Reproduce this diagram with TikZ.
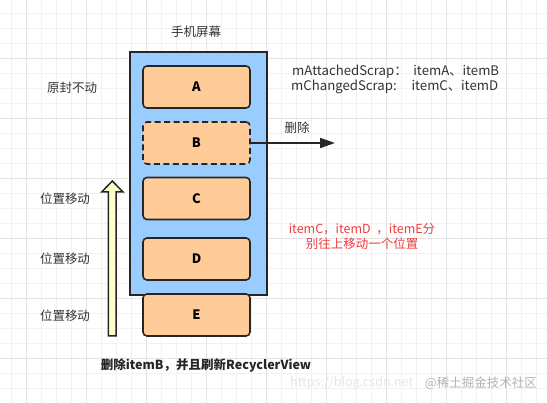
\documentclass[tikz,border=0pt]{standalone}
\usepackage{fontspec}
\setmainfont{Noto Sans CJK SC}
\usetikzlibrary{arrows.meta}

\definecolor{screenblue}{HTML}{99CCFF}
\definecolor{itemorange}{HTML}{FFCC99}
\definecolor{movearrow}{HTML}{FFFFCC}
\definecolor{notered}{HTML}{F03C3C}
\definecolor{gridminor}{HTML}{F2F2F2}
\definecolor{gridmajor}{HTML}{E4E4E4}

\tikzset{
	item/.style={draw=black!85, line width=1.6pt, fill=itemorange, rounded corners=4pt,
		minimum width=107pt, minimum height=42pt, inner sep=0pt,
		font=\fontsize{13}{15}\selectfont\bfseries},
	label/.style={inner sep=0pt, font=\fontsize{12.5}{15}\selectfont, text=black!80},
}

\begin{document}
\begin{tikzpicture}[x=1pt, y=-1pt]
		\useasboundingbox (0,0) rectangle (547,403);
		% background grid
		\foreach \x in {11,26,...,547}
			\draw[gridminor, line width=0.8pt] (\x,0) -- (\x,403);
		\foreach \y in {13,28,...,403}
			\draw[gridminor, line width=0.8pt] (0,\y) -- (547,\y);
		\foreach \x in {26,86,...,547}
			\draw[gridmajor, line width=0.8pt] (\x,0) -- (\x,403);
		\foreach \y in {58,118,...,403}
			\draw[gridmajor, line width=0.8pt] (0,\y) -- (547,\y);
		% phone screen
		\node[label] (title) at (196,32) {手机屏幕};
		\node[draw=black!85, line width=2pt, fill=screenblue, minimum width=137pt,
			minimum height=243pt, inner sep=0pt] (screen) at (198.5,173.5) {};
		% items
		\node[item] (A) at (196.5,87) {A};
		\node[item, dash pattern=on 6pt off 3.5pt] (B) at (196.5,143) {B};
		\node[item] (C) at (196.5,198.5) {C};
		\node[item] (D) at (196.5,259) {D};
		\node[item] (E) at (196.5,315) {E};
		% labels on the left
		\node[label] (keep) at (72,88) {原封不动};
		\node[label] (moveC) at (65,199) {位置移动};
		\node[label] (moveD) at (65,259) {位置移动};
		\node[label] (moveE) at (65,316) {位置移动};
		% arrow of moving up
		\draw[black!85, line width=1.5pt, fill=movearrow, line join=miter]
			(108.3,336) -- (108.3,192) -- (101.7,192) -- (112.3,181) -- (123,192)
			-- (116.2,192) -- (116.2,336) -- cycle;
		% removing B
		\coordinate (out) at (335,143);
		\draw[black!85, line width=1.8pt, -{Triangle[length=15pt, width=10pt]}] (B.east) -- (out);
		\node[label] (remove) at (297,128) {删除};
		% scrap lists
		\node[label, anchor=west, font=\fontsize{13.2}{15}\selectfont] (attached) at (292,72)
			{mAttachedScrap：\ \ itemA、itemB};
		\node[label, anchor=west, font=\fontsize{13.2}{15}\selectfont] (changed) at (291,87)
			{mChangedScrap:\ \ \ \ \ itemC、itemD};
		% note in red
		\node[label, text=notered, align=center] (note) at (362,236)
			{itemC，itemD\ \ ，itemE分\\别往上移动一个位置};
		% caption
		\node[label, font=\fontsize{12.5}{15}\selectfont\bfseries, text=black!85] (caption) at (206,365)
			{删除itemB，并且刷新RecyclerView};
		% watermark
		\node[label, anchor=west, text=black!10] (site) at (290,383) {https://blog.csdn.net};
		\node[label, anchor=east, text=black!30] (mark) at (537,383) {@稀土掘金技术社区};
	\end{tikzpicture}
\end{document}
